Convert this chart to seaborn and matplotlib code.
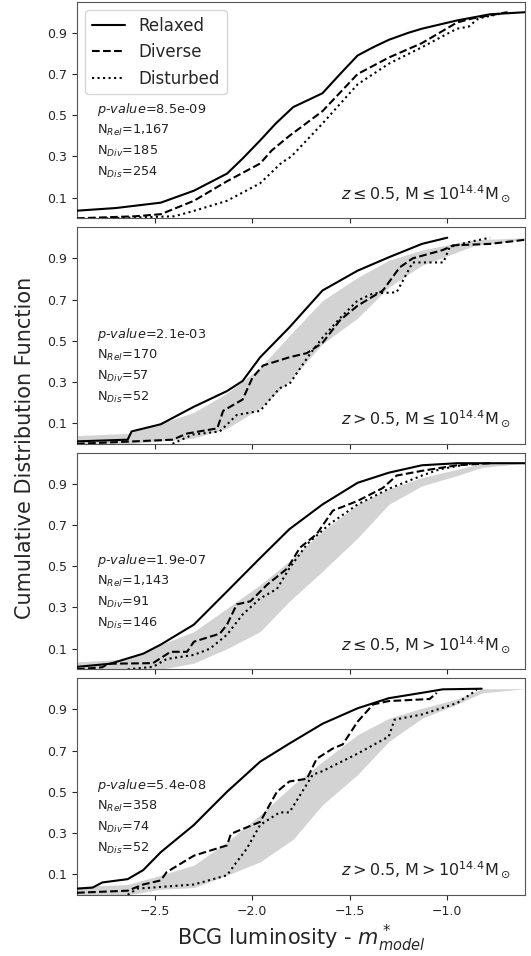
"""CDF of BCG luminosity for relaxed / diverse / disturbed clusters, 4 bins in z and mass."""
import matplotlib

matplotlib.use("Agg")
import matplotlib.pyplot as plt
import seaborn as sns

# ---- panel 1: z <= 0.5, M <= 10^14.4 ----
p1_rel_x = [-2.9, -2.7, -2.47, -2.3, -2.13, -2.05, -1.96, -1.88, -1.79, -1.7, -1.64, -1.55, -1.46,
            -1.38, -1.3, -1.2, -1.13, -0.95, -0.78, -0.6]
p1_rel_y = [0.037, 0.05, 0.076, 0.134, 0.217, 0.29, 0.378, 0.46, 0.54, 0.58, 0.607, 0.70, 0.79,
            0.83, 0.866, 0.90, 0.92, 0.96, 0.99, 1.0]
p1_div_x = [-2.9, -2.6, -2.47, -2.3, -2.13, -1.96, -1.9, -1.81, -1.64, -1.46, -1.3, -1.13, -0.95,
            -0.87, -0.69]
p1_div_y = [0.0, 0.01, 0.02, 0.085, 0.18, 0.266, 0.33, 0.40, 0.52, 0.70, 0.78, 0.85, 0.95, 0.97, 1.0]
p1_dis_x = [-2.75, -2.4, -2.3, -2.13, -1.96, -1.85, -1.8, -1.7, -1.64, -1.46, -1.3, -1.13, -0.95,
            -0.89, -0.84, -0.69]
p1_dis_y = [0.0, 0.01, 0.036, 0.085, 0.17, 0.27, 0.30, 0.40, 0.46, 0.65, 0.75, 0.83, 0.92, 0.93,
            0.97, 1.0]

# ---- panel 2: z > 0.5, M <= 10^14.4 ----
p2_rel_x = [-2.9, -2.64, -2.62, -2.47, -2.3, -2.13, -2.05, -1.96, -1.81, -1.64, -1.46, -1.3, -1.13, -1.0]
p2_rel_y = [0.012, 0.02, 0.06, 0.095, 0.18, 0.256, 0.305, 0.42, 0.565, 0.744, 0.84, 0.905, 0.97, 1.0]
p2_div_x = [-2.9, -2.41, -2.335, -2.18, -2.15, -2.05, -2.0, -1.945, -1.81, -1.72, -1.64, -1.55, -1.46,
            -1.33, -1.244, -1.177, -1.023, -0.97, -0.78, -0.6]
p2_div_y = [0.0, 0.02, 0.05, 0.075, 0.16, 0.215, 0.32, 0.38, 0.42, 0.44, 0.49, 0.60, 0.67, 0.744,
            0.856, 0.90, 0.94, 0.963, 0.97, 0.99]
p2_dis_x = [-2.41, -2.305, -2.167, -2.08, -1.96, -1.86, -1.81, -1.705, -1.64, -1.55, -1.46, -1.38,
            -1.26, -1.177, -1.02, -0.987, -0.885, -0.78]
p2_dis_y = [0.0, 0.045, 0.06, 0.14, 0.16, 0.27, 0.29, 0.435, 0.515, 0.61, 0.695, 0.73, 0.735, 0.88,
            0.88, 0.955, 0.98, 1.0]
p2_band_x = [-2.9, -2.64, -2.305, -2.13, -1.96, -1.81, -1.64, -1.46, -1.3, -1.13, -0.95, -0.85, -0.6]
p2_band_lo = [0.0, 0.0, 0.027, 0.075, 0.173, 0.305, 0.485, 0.61, 0.76, 0.866, 0.93, 0.965, 0.99]
p2_band_hi = [0.04, 0.05, 0.15, 0.246, 0.37, 0.525, 0.695, 0.807, 0.89, 0.94, 0.975, 0.99, 1.0]

# ---- panel 3: z <= 0.5, M > 10^14.4 ----
p3_rel_x = [-2.9, -2.73, -2.56, -2.47, -2.3, -2.13, -1.96, -1.81, -1.64, -1.46, -1.3, -1.13, -0.95, -0.6]
p3_rel_y = [0.012, 0.027, 0.076, 0.12, 0.217, 0.378, 0.54, 0.68, 0.80, 0.905, 0.954, 0.99, 1.0, 1.0]
p3_div_x = [-2.9, -2.77, -2.74, -2.51, -2.42, -2.335, -2.3, -2.167, -2.13, -2.08, -2.01, -1.925,
            -1.82, -1.756, -1.67, -1.587, -1.46, -1.33, -1.26, -1.13, -0.95, -0.78]
p3_div_y = [0.0, 0.01, 0.027, 0.03, 0.085, 0.085, 0.134, 0.173, 0.217, 0.315, 0.33, 0.41, 0.49,
            0.59, 0.656, 0.77, 0.817, 0.88, 0.94, 0.963, 0.99, 1.0]
p3_dis_x = [-2.64, -2.51, -2.44, -2.3, -2.218, -2.13, -2.05, -1.96, -1.874, -1.81, -1.72, -1.603,
            -1.46, -1.3, -1.13, -1.04, -0.87]
p3_dis_y = [0.0, 0.012, 0.05, 0.07, 0.1, 0.168, 0.266, 0.344, 0.39, 0.49, 0.607, 0.705, 0.80,
            0.876, 0.94, 0.97, 1.0]
p3_band_x = [-2.9, -2.64, -2.47, -2.3, -2.13, -1.96, -1.81, -1.64, -1.46, -1.3, -1.13, -0.95, -0.82, -0.6]
p3_band_lo = [0.0, 0.0, 0.0, 0.03, 0.1, 0.183, 0.33, 0.476, 0.637, 0.80, 0.89, 0.94, 0.98, 1.0]
p3_band_hi = [0.036, 0.05, 0.12, 0.183, 0.296, 0.41, 0.525, 0.67, 0.80, 0.875, 0.93, 0.97, 1.0, 1.0]

# ---- panel 4: z > 0.5, M > 10^14.4 ----
p4_rel_x = [-2.9, -2.82, -2.77, -2.64, -2.56, -2.47, -2.3, -2.218, -2.13, -1.96, -1.81, -1.64,
            -1.46, -1.3, -1.13, -1.023, -0.823]
p4_rel_y = [0.03, 0.035, 0.06, 0.076, 0.12, 0.207, 0.339, 0.417, 0.5, 0.646, 0.734, 0.83, 0.905,
            0.954, 0.98, 0.997, 1.0]
p4_div_x = [-2.9, -2.64, -2.56, -2.47, -2.44, -2.3, -2.13, -2.11, -1.96, -1.874, -1.81, -1.72,
            -1.67, -1.587, -1.536, -1.46, -1.38, -1.3, -1.09, -1.054]
p4_div_y = [0.01, 0.02, 0.05, 0.07, 0.11, 0.19, 0.24, 0.296, 0.354, 0.5, 0.55, 0.563, 0.66, 0.71,
            0.73, 0.84, 0.924, 0.94, 0.95, 0.98]
p4_dis_x = [-2.64, -2.59, -2.3, -2.13, -2.08, -2.03, -1.96, -1.86, -1.81, -1.69, -1.64, -1.46,
            -1.3, -1.27, -1.13, -0.95, -0.87, -0.845]
p4_dis_y = [0.0, 0.03, 0.05, 0.095, 0.16, 0.222, 0.339, 0.40, 0.40, 0.583, 0.60, 0.685, 0.768,
            0.85, 0.875, 0.93, 0.98, 1.0]
p4_band_x = [-2.9, -2.64, -2.47, -2.3, -2.13, -1.96, -1.79, -1.64, -1.46, -1.3, -1.13, -0.95, -0.82, -0.6]
p4_band_lo = [0.0, 0.0, 0.027, 0.035, 0.095, 0.16, 0.27, 0.437, 0.583, 0.744, 0.856, 0.925, 0.98, 1.0]
p4_band_hi = [0.04, 0.05, 0.095, 0.144, 0.256, 0.388, 0.534, 0.646, 0.777, 0.856, 0.905, 0.95, 1.0, 1.0]

p_values = ["8.5e-09", "2.1e-03", "1.9e-07", "5.4e-08"]
n_rel = ["1,167", "170", "1,143", "358"]
n_div = ["185", "57", "91", "74"]
n_dis = ["254", "52", "146", "52"]
bin_labels = [
    r"$z \leq 0.5$, M$\leq 10^{14.4}$M$_\odot$",
    r"$z > 0.5$, M$\leq 10^{14.4}$M$_\odot$",
    r"$z \leq 0.5$, M$> 10^{14.4}$M$_\odot$",
    r"$z > 0.5$, M$> 10^{14.4}$M$_\odot$",
]

curves = [
    (p1_rel_x, p1_rel_y, p1_div_x, p1_div_y, p1_dis_x, p1_dis_y),
    (p2_rel_x, p2_rel_y, p2_div_x, p2_div_y, p2_dis_x, p2_dis_y),
    (p3_rel_x, p3_rel_y, p3_div_x, p3_div_y, p3_dis_x, p3_dis_y),
    (p4_rel_x, p4_rel_y, p4_div_x, p4_div_y, p4_dis_x, p4_dis_y),
]
bands = [None,
         (p2_band_x, p2_band_lo, p2_band_hi),
         (p3_band_x, p3_band_lo, p3_band_hi),
         (p4_band_x, p4_band_lo, p4_band_hi)]

sns.set_style("ticks")
plt.rcParams["font.family"] = ["DejaVu Sans"]

fig, axes = plt.subplots(4, 1, figsize=(5.31, 9.56), sharex=True)
fig.subplots_adjust(left=0.145, right=0.989, top=0.998, bottom=0.064, hspace=0.042)

for i, ax in enumerate(axes):
    if bands[i] is not None:
        bx, blo, bhi = bands[i]
        ax.fill_between(bx, blo, bhi, color="lightgray", linewidth=0, zorder=1)
    rx, ry, dx, dy, sx, sy = curves[i]
    sns.lineplot(x=rx, y=ry, ax=ax, color="black", lw=1.5, linestyle="-",
                 estimator=None, sort=False, label="Relaxed", zorder=3)
    sns.lineplot(x=dx, y=dy, ax=ax, color="black", lw=1.5, linestyle="--",
                 estimator=None, sort=False, label="Diverse", zorder=3)
    sns.lineplot(x=sx, y=sy, ax=ax, color="black", lw=1.5, linestyle=":",
                 estimator=None, sort=False, label="Disturbed", zorder=3)

    ax.set_xlim(-2.9, -0.6)
    ax.set_ylim(0.0, 1.05)
    ax.set_yticks([0.1, 0.3, 0.5, 0.7, 0.9])
    ax.set_xticks([-2.5, -2.0, -1.5, -1.0])
    ax.tick_params(labelsize=9)
    ax.set_ylabel("")
    for sp in ax.spines.values():
        sp.set_color("#555555")

    # stats block
    txt = [r"$p$-$value$=" + p_values[i],
           r"N$_{Rel}$=" + n_rel[i],
           r"N$_{Div}$=" + n_div[i],
           r"N$_{Dis}$=" + n_dis[i]]
    for j, t in enumerate(txt):
        ax.text(0.045, 0.505 - j * 0.097, t, transform=ax.transAxes,
                fontsize=9.3, va="center", ha="left", color="#222222")
    ax.text(0.967, 0.115, bin_labels[i], transform=ax.transAxes,
            fontsize=11.5, ha="right", va="center", color="#222222")

    if i == 0:
        ax.legend(loc="upper left", fontsize=12, frameon=True)
    else:
        ax.get_legend().remove()

axes[-1].set_xlabel(r"BCG luminosity - $m^*_{model}$", fontsize=15)
fig.text(0.047, 0.531, "Cumulative Distribution Function", rotation=90,
         fontsize=15, ha="center", va="center")

fig.savefig("out.png", dpi=100)
